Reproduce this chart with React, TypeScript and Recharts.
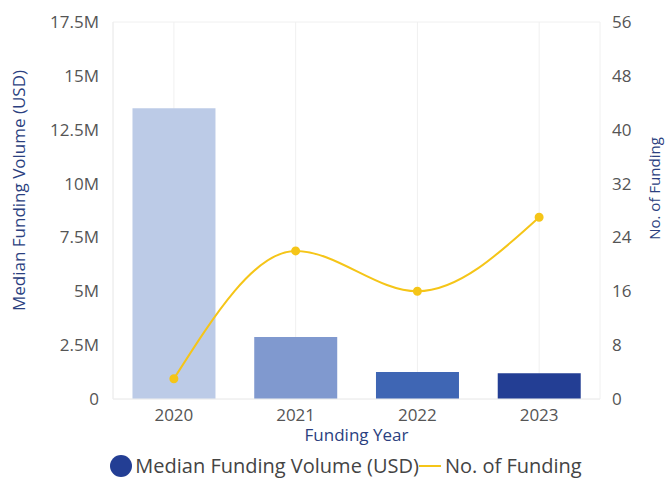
import { ComposedChart, Bar, Line, XAxis, YAxis, CartesianGrid, Legend, Cell } from 'recharts'

const years = ['2020', '2021', '2022', '2023']
const medianVolume = [13500000, 2880000, 1250000, 1200000]
const fundingCount = [3, 22, 16, 27]
const barColors = ['#bccbe7', '#8099cf', '#3f66b4', '#233e94']
const volumeTicks = [0, 2500000, 5000000, 7500000, 10000000, 12500000, 15000000, 17500000]
const countTicks = [0, 8, 16, 24, 32, 40, 48, 56]

const FONT = '"Open Sans", sans-serif'
const NAVY = '#2b3f80'

const data = years.map((y, i) => ({ year: y, volume: medianVolume[i], count: fundingCount[i] }))

const fmtM = (v: number) => (v === 0 ? '0' : `${v / 1000000}M`)

function LegendContent() {
  return (
    <div style={{ display: 'flex', alignItems: 'center', justifyContent: 'center', fontFamily: FONT, fontSize: 20, color: '#444', marginTop: 8, paddingLeft: 26 }}>
      <span style={{ width: 22, height: 22, borderRadius: '50%', background: '#233e94', display: 'inline-block', marginRight: 3 }} />
      <span>Median Funding Volume (USD)</span>
      <span style={{ width: 22, height: 2, background: '#f5c518', display: 'inline-block', margin: '0 4px 0 0' }} />
      <span>No. of Funding</span>
    </div>
  )
}

// rotated axis titles, placed from the axis viewBox
function LeftTitle(props: any) {
  const { viewBox } = props
  const x = viewBox.x + 18
  const y = viewBox.y + viewBox.height / 2 - 20
  return (
    <text x={x} y={y} transform={`rotate(-90 ${x} ${y})`} textAnchor="middle" dominantBaseline="central" fill={NAVY} fontSize={17} fontFamily={FONT}>
      Median Funding Volume (USD)
    </text>
  )
}

function RightTitle(props: any) {
  const { viewBox } = props
  const x = viewBox.x + viewBox.width - 12
  const y = viewBox.y + viewBox.height / 2 - 22
  return (
    <text x={x} y={y} transform={`rotate(-90 ${x} ${y})`} textAnchor="middle" dominantBaseline="central" fill={NAVY} fontSize={15} fontFamily={FONT}>
      No. of Funding
    </text>
  )
}

export default function App() {
  return (
    <div style={{ position: 'fixed', top: 0, left: 0, width: 666, height: 479, background: '#fff' }}>
      <ComposedChart width={666} height={479} data={data} margin={{ top: 22, right: 0, bottom: 0, left: 0 }} barCategoryGap="16%">
        <CartesianGrid stroke="#f0f0f0" />
        <XAxis
          dataKey="year"
          tick={{ fontSize: 17, fill: '#555', fontFamily: FONT }}
          axisLine={{ stroke: '#eee' }}
          tickLine={false}
          height={45}
          tickMargin={4}
          label={{ value: 'Funding Year', position: 'insideBottom', offset: 3, fill: NAVY, fontSize: 17, fontFamily: FONT }}
        />
        <YAxis
          yAxisId="left"
          domain={[0, 17500000]}
          ticks={volumeTicks}
          tickFormatter={fmtM}
          tick={{ fontSize: 17, fill: '#555', fontFamily: FONT }}
          axisLine={{ stroke: '#eee' }}
          tickLine={false}
          width={113}
          tickMargin={8}
          label={<LeftTitle />}
        />
        <YAxis
          yAxisId="right"
          orientation="right"
          domain={[0, 56]}
          ticks={countTicks}
          tick={{ fontSize: 17, fill: '#555', fontFamily: FONT }}
          axisLine={false}
          tickLine={false}
          width={66}
          tickMargin={6}
          label={<RightTitle />}
        />
        <Legend verticalAlign="bottom" height={35} content={<LegendContent />} />
        <Bar yAxisId="left" dataKey="volume" name="Median Funding Volume (USD)" isAnimationActive={false}>
          {data.map((d, i) => (
            <Cell key={d.year} fill={barColors[i]} />
          ))}
        </Bar>
        <Line
          yAxisId="right"
          type="monotone"
          dataKey="count"
          name="No. of Funding"
          stroke="#f5c518"
          strokeWidth={2}
          dot={{ r: 3.5, fill: '#f5c518', stroke: '#f5c518' }}
          isAnimationActive={false}
        />
      </ComposedChart>
    </div>
  )
}
